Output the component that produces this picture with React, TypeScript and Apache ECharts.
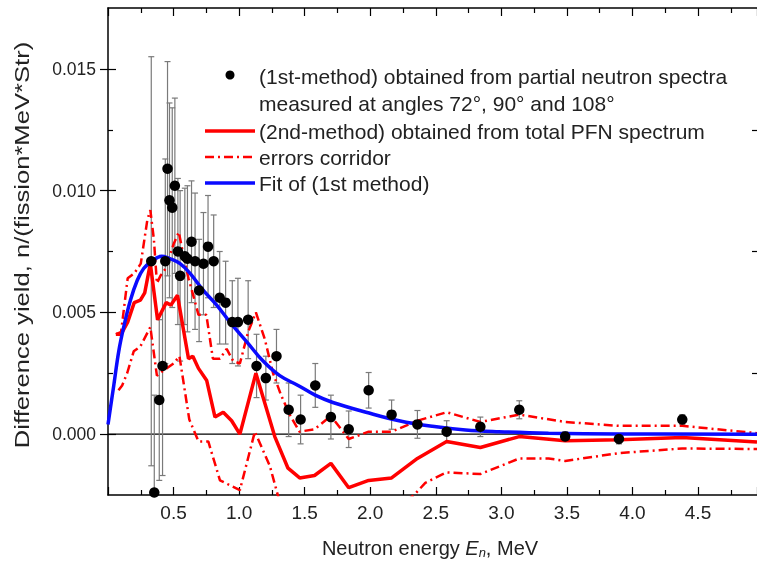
import React, { useEffect, useRef } from "react";
import * as echarts from "echarts";

// ---- data ----
const dotE = [0.330,0.353,0.391,0.416,0.437,0.454,0.469,0.490,0.510,0.533,0.550,0.586,0.606,0.637,0.664,0.695,0.728,0.763,0.806,0.852,0.897,0.948,0.991,1.069,1.133,1.204,1.285,1.378,1.469,1.581,1.700,1.836,1.988,2.163,2.360,2.583,2.840,3.137,3.487,3.897,4.380];
const dotY = [0.0071,-0.0024,0.0014,0.0028,0.0071,0.0109,0.0096,0.0093,0.0102,0.0075,0.0065,0.0073,0.0072,0.0079,0.0071,0.0059,0.0070,0.0077,0.0071,0.0056,0.0054,0.0046,0.0046,0.0047,0.0028,0.0023,0.0032,0.0010,0.0006,0.0020,0.0007,0.0002,0.0018,0.0008,0.0004,0.0001,0.0003,0.0010,-0.0001,-0.0002,0.0006];
const dotErr = [0.0084,0.0040,0.0033,0.0045,0.0042,0.0044,0.0040,0.0041,0.0036,0.0030,0.0035,0.0028,0.0030,0.0025,0.0028,0.0021,0.0021,0.0021,0.0019,0.0019,0.0017,0.0017,0.0018,0.0016,0.0013,0.0009,0.0011,0.0011,0.0010,0.0009,0.0009,0.00075,0.00073,0.0006,0.00057,0.00045,0.0004,0.00037,0.0002,0.0002,0.0002];

const method2E = [0.06,0.10,0.15,0.20,0.247,0.28,0.323,0.378,0.444,0.48,0.53,0.614,0.647,0.69,0.753,0.816,0.879,0.943,1.006,1.128,1.272,1.373,1.462,1.575,1.70,1.836,1.988,2.163,2.36,2.583,2.84,3.137,3.487,3.897,4.38,4.95];
const method2Y = [0.0041,0.0041,0.0046,0.0054,0.0055,0.0058,0.0070,0.0047,0.0054,0.0053,0.0057,0.0031,0.0032,0.0027,0.0022,0.0007,0.0009,0.00055,0.0,0.0025,-0.0001,-0.0014,-0.0018,-0.0017,-0.0012,-0.0022,-0.0019,-0.0018,-0.0010,-0.0003,-0.00055,-0.0001,-0.00027,-0.00023,-0.00014,-0.00032];

const upperE = [0.06,0.10,0.15,0.20,0.25,0.30,0.323,0.35,0.373,0.40,0.44,0.50,0.54,0.58,0.614,0.65,0.69,0.75,0.80,0.854,0.905,0.955,1.006,1.069,1.128,1.196,1.259,1.32,1.386,1.46,1.575,1.70,1.836,1.988,2.163,2.36,2.583,2.84,3.137,3.487,3.897,4.38,4.95];
const upperY = [0.0041,0.0042,0.0064,0.0066,0.0070,0.0088,0.0092,0.0080,0.0062,0.0065,0.0068,0.0078,0.0083,0.0072,0.0064,0.0057,0.0049,0.0049,0.0031,0.0031,0.0035,0.0030,0.0029,0.0042,0.0050,0.0039,0.0025,0.0016,0.0008,0.0001,0.0002,0.00075,-0.0002,0.0001,0.0001,0.00055,0.0009,0.0005,0.0008,0.0005,0.00034,0.00034,0.00004];

const lowerE = [0.08,0.108,0.146,0.196,0.247,0.323,0.373,0.42,0.50,0.545,0.62,0.69,0.765,0.854,1.006,1.12,1.234,1.30,1.462,1.836,2.163,2.335,2.42,2.583,2.84,3.137,3.36,3.487,3.897,4.38,4.95];
const lowerY = [0.0018,0.0020,0.0025,0.0034,0.0036,0.0044,0.0024,0.0026,0.0029,0.0032,0.0006,-0.0003,-0.0003,-0.0019,-0.0023,0.0001,-0.0013,-0.0026,-0.0042,-0.0045,-0.0032,-0.0025,-0.0020,-0.00157,-0.00164,-0.0010,-0.0010,-0.0011,-0.00078,-0.00059,-0.00061];

const fitE = [0.0,0.044,0.082,0.12,0.171,0.222,0.272,0.335,0.41,0.475,0.55,0.626,0.727,0.829,0.93,1.057,1.183,1.31,1.45,1.58,1.715,1.968,2.22,2.474,2.727,2.98,3.36,3.9,4.95];
const fitY = [0.0004,0.0020,0.0034,0.0044,0.0055,0.0063,0.0068,0.0071,0.0073,0.0072,0.0070,0.0066,0.0059,0.0053,0.0046,0.0038,0.0030,0.0024,0.0020,0.0016,0.0013,0.0009,0.00055,0.00032,0.00017,0.0001,0.00004,0.00001,0.0];

const xTicks = [0, 0.5, 1.0, 1.5, 2.0, 2.5, 3.0, 3.5, 4.0, 4.5];
const yMajor = [0, 0.005, 0.01, 0.015];
const yMinor = [0.0025, 0.0075, 0.0125];

const legendTexts = [
  "(1st-method) obtained from partial neutron spectra",
  "measured at angles 72°, 90° and 108°",
  "(2nd-method) obtained from total PFN spectrum",
  "errors corridor",
  "Fit of (1st method)",
];

const FONT = "'Liberation Sans', Arial, sans-serif";
const TXT = "#222";
const RED = "#ff0000";
const BLUE = "#0a0aff";

const zip = (a: number[], b: number[]) => a.map((v, i) => [v, b[i]]);

export default function App() {
  const ref = useRef<HTMLDivElement>(null);
  useEffect(() => {
    if (!ref.current) return;
    const chart = echarts.init(ref.current, null, { renderer: "svg" });
    const X0 = 0, X1 = 4.95, Y0 = -0.0025, Y1 = 0.0175;
    const tickCommon = { inside: true, lineStyle: { color: "#000", width: 1.2 } };
    const xBase = {
      type: "value", min: X0, max: X1, interval: 0.5, gridIndex: 0,
      splitLine: { show: false },
      axisLine: { show: true, onZero: false, lineStyle: { color: "#000", width: 1.5 } },
      axisTick: { show: true, ...tickCommon, length: 8 },
      minorTick: { show: true, splitNumber: 2, length: 5, lineStyle: { color: "#000", width: 1.2 } },
    };
    const yBase = {
      type: "value", min: Y0, max: Y1, gridIndex: 0,
      splitLine: { show: false },
      axisLine: { show: false },
    };
    const option: any = {
      animation: false,
      grid: { left: 108, top: 8, width: 651.5, height: 487, containLabel: false },
      xAxis: [
        {
          ...xBase, position: "bottom",
          axisLabel: {
            show: true, fontFamily: FONT, fontSize: 19, color: TXT, margin: 8,
            showMinLabel: false, showMaxLabel: false,
            formatter: (v: number) => (xTicks.indexOf(v) > 0 ? v.toFixed(1) : ""),
          },
        },
        { ...xBase, position: "top", axisLabel: { show: false } },
      ],
      yAxis: [
        {
          ...yBase, position: "left",
          axisLine: { show: true, onZero: false, lineStyle: { color: "#000", width: 1.5 } },
          axisTick: { show: true, ...tickCommon, length: 8, customValues: yMajor },
          axisLabel: {
            show: true, fontFamily: FONT, fontSize: 17.5, color: TXT, margin: 12,
            customValues: yMajor, formatter: (v: number) => v.toFixed(3),
          },
        },
        {
          ...yBase, position: "left",
          axisTick: { show: true, ...tickCommon, length: 5, customValues: yMinor },
          axisLabel: { show: false },
        },
        {
          ...yBase, position: "right",
          axisTick: { show: true, ...tickCommon, length: 8, customValues: yMajor },
          axisLabel: { show: false },
        },
        {
          ...yBase, position: "right",
          axisTick: { show: true, ...tickCommon, length: 5, customValues: yMinor },
          axisLabel: { show: false },
        },
      ],
      series: [
        {
          type: "line", name: "zero", data: [[X0, 0], [X1, 0]], showSymbol: false,
          lineStyle: { color: "#000", width: 1.3 }, silent: true, z: 1,
        },
        {
          type: "custom", name: "errors", clip: true, z: 2,
          data: dotE.map((e, i) => [e, dotY[i], dotErr[i]]),
          encode: { x: 0, y: 1 },
          renderItem: (params: any, api: any) => {
            const x = api.value(0), y = api.value(1), err = api.value(2);
            const t = api.coord([x, y + err]);
            const b = api.coord([x, y - err]);
            const w = 3;
            const st = { stroke: "#7a7a7a", lineWidth: 1.2 };
            return {
              type: "group",
              children: [
                { type: "line", shape: { x1: t[0], y1: t[1], x2: b[0], y2: b[1] }, style: st },
                { type: "line", shape: { x1: t[0] - w, y1: t[1], x2: t[0] + w, y2: t[1] }, style: st },
                { type: "line", shape: { x1: b[0] - w, y1: b[1], x2: b[0] + w, y2: b[1] }, style: st },
              ],
            };
          },
        },
        {
          type: "line", name: "lower", data: zip(lowerE, lowerY), showSymbol: false, clip: true, z: 3,
          lineStyle: { color: RED, width: 2.5, type: [9, 4, 2, 4] },
        },
        {
          type: "line", name: "upper", data: zip(upperE, upperY), showSymbol: false, clip: true, z: 3,
          lineStyle: { color: RED, width: 2.5, type: [9, 4, 2, 4] },
        },
        {
          type: "line", name: "2nd", data: zip(method2E, method2Y), showSymbol: false, clip: true, z: 4,
          lineStyle: { color: RED, width: 3.5 },
        },
        {
          type: "line", name: "fit", data: zip(fitE, fitY), showSymbol: false, clip: true, smooth: 0.4, z: 5,
          lineStyle: { color: BLUE, width: 3.5 },
        },
        {
          type: "scatter", name: "1st", data: zip(dotE, dotY), symbol: "circle", symbolSize: 10.5, clip: true, z: 6,
          itemStyle: { color: "#000", opacity: 1 },
        },
      ],
      graphic: [
        {
          type: "text", x: 22, y: 245, rotation: Math.PI / 2, scaleX: 1.28,
          style: { text: "Difference yield, n/(fission*MeV*Str)", font: `20px ${FONT}`, fill: TXT, align: "center", verticalAlign: "middle" },
        },
        {
          type: "text", x: 430, y: 548,
          style: {
            text: "{a|Neutron energy }{i|E}{s|n}{a|, MeV}",
            align: "center", verticalAlign: "middle",
            rich: {
              a: { fontFamily: FONT, fontSize: 20, fill: TXT },
              i: { fontFamily: FONT, fontSize: 20, fontStyle: "italic", fill: TXT },
              s: { fontFamily: FONT, fontSize: 13, fontStyle: "italic", fill: TXT, padding: [9, 0, 0, 0] },
            },
          },
        },
        { type: "circle", shape: { cx: 230, cy: 75, r: 4.5 }, style: { fill: "#000" } },
        { type: "line", shape: { x1: 205, y1: 131, x2: 255, y2: 131 }, style: { stroke: RED, lineWidth: 3.5 } },
        { type: "line", shape: { x1: 205, y1: 157, x2: 255, y2: 157 }, style: { stroke: RED, lineWidth: 2.5, lineDash: [9, 4, 2, 4] } },
        { type: "line", shape: { x1: 205, y1: 183, x2: 255, y2: 183 }, style: { stroke: BLUE, lineWidth: 3.5 } },
        ...legendTexts.map((t, i) => ({
          type: "text", x: 259, y: [76, 103, 131, 157, 183][i],
          style: { text: t, font: `21px ${FONT}`, fill: TXT, align: "left", verticalAlign: "middle" },
        })),
      ],
    };
    chart.setOption(option);
    return () => chart.dispose();
  }, []);
  return <div ref={ref} style={{ position: "fixed", left: 0, top: 0, width: 757, height: 562 }} />;
}
